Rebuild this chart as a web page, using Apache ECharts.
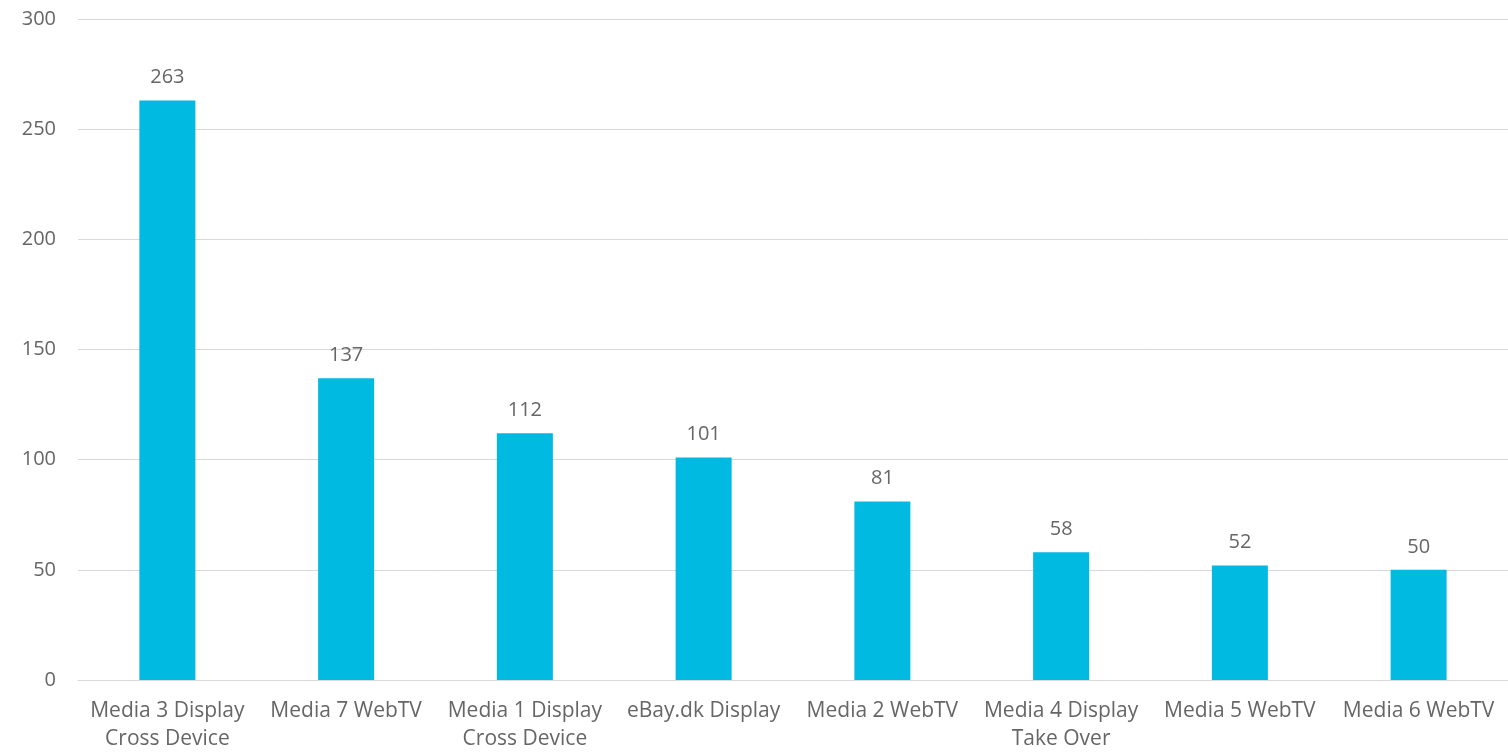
<!DOCTYPE html>
<html>
<head>
<meta charset="utf-8">
<style>html,body{margin:0;padding:0;background:#fff;}#c{width:1508px;height:753px;}</style>
<script src="https://cdn.jsdelivr.net/npm/echarts@6/dist/echarts.min.js"></script>
</head>
<body>
<div id="c"></div>
<script>
const categories = ["Media 3 Display\nCross Device", "Media 7 WebTV", "Media 1 Display\nCross Device", "eBay.dk Display", "Media 2 WebTV", "Media 4 Display\nTake Over", "Media 5 WebTV", "Media 6 WebTV"];
const values = [263, 137, 112, 101, 81, 58, 52, 50];
const yTicks = [0, 50, 100, 150, 200, 250, 300];

const chart = echarts.init(document.getElementById('c'), null, {renderer: 'canvas'});
const font = '"Open Sans", "Liberation Sans", sans-serif';
chart.setOption({
  animation: false,
  grid: {left: 78, right: 0, top: 19, bottom: 64, containLabel: false},
  xAxis: {
    type: 'category',
    data: categories,
    axisLine: {show: true, lineStyle: {color: '#d9d9d9', width: 1}},
    axisTick: {show: false},
    axisLabel: {color: '#666666', fontFamily: font, fontSize: 21, lineHeight: 28, margin: 17, interval: 0}
  },
  yAxis: {
    type: 'value',
    min: yTicks[0],
    max: yTicks[yTicks.length - 1],
    interval: 50,
    axisLine: {show: false},
    axisTick: {show: false},
    splitLine: {lineStyle: {color: '#d9d9d9', width: 1}},
    axisLabel: {color: '#666666', fontFamily: font, fontSize: 20, margin: 22}
  },
  series: [{
    type: 'bar',
    data: values,
    barWidth: 56,
    itemStyle: {color: '#00BAE2'},
    label: {show: true, position: 'top', distance: 13, color: '#666666', fontFamily: font, fontSize: 20}
  }]
});
</script>
</body>
</html>
